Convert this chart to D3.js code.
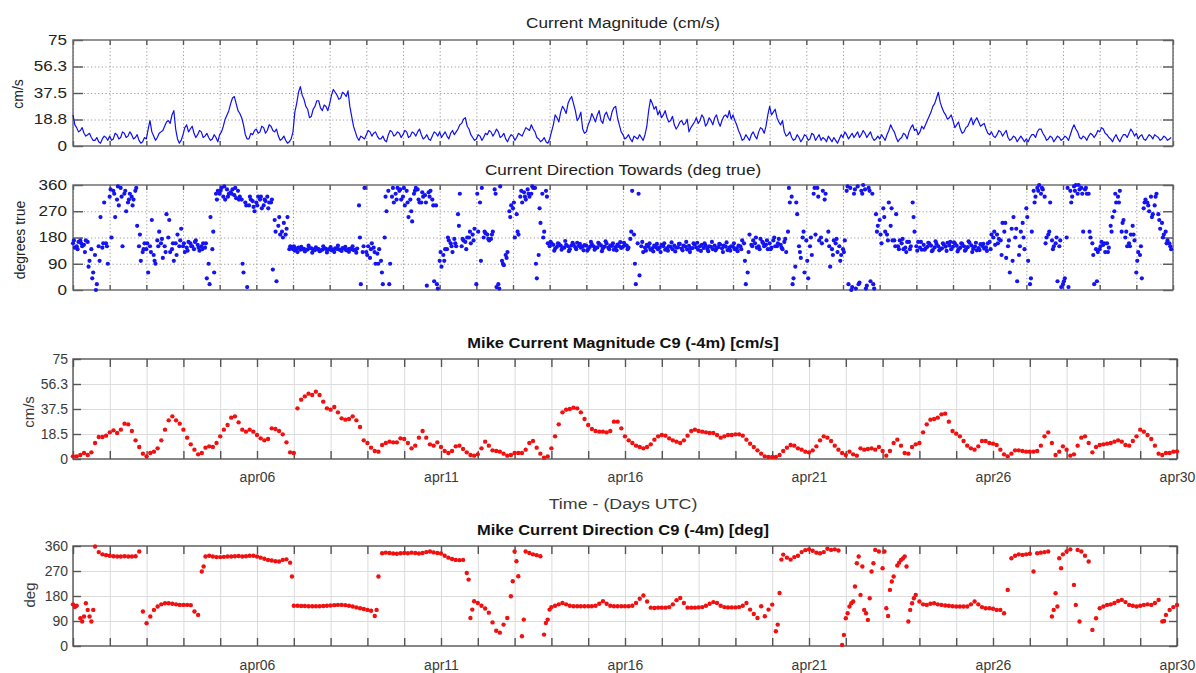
<!DOCTYPE html>
<html><head><meta charset="utf-8">
<script src="https://cdn.jsdelivr.net/npm/d3@7"></script>
<style>body{margin:0;background:#fff;}svg{display:block;}</style>
</head><body>
<svg id="chart" width="1196" height="673"></svg>
<script>
// ---------------- DATA ----------------
const stepDays = 0.1;               // sampling step of the arrays below (days since apr01 00:00)
const xLabelDays = [5, 10, 15, 20, 25, 30];
const xLabels = ["apr06", "apr11", "apr16", "apr21", "apr26", "apr30"];
const magTicks = [0, 18.75, 37.5, 56.25, 75];
const magLabelsObs = ["0", "18.8", "37.5", "56.3", "75"];
const magLabelsModel = ["0", "18.5", "37.5", "56.3", "75"];
const dirTicks = [0, 90, 180, 270, 360];
const dirLabels = ["0", "90", "180", "270", "360"];

// Observed current magnitude (cm/s), read at each step ...
const magObs = [
22,13,11,9,8,6,4,3,5,6, 7,5,8,6,9,7,8,6,4,3, 5,18,7,6,10,14,18,22,12,2, 8,15,12,9,8,10,7,6,5,6,
8,14,22,30,35,25,20,8,5,8, 12,10,13,11,14,10,7,5,4,3, 10,30,42,33,26,21,28,32,25,28, 30,40,36,34,37,39,21,10,4,6,
8,10,9,7,5,4,8,10,8,9, 8,10,7,9,10,8,6,5,7,9, 10,8,7,9,8,12,16,20,12,6, 5,7,6,8,10,9,10,7,5,6,
7,6,8,10,12,15,10,5,4,3, 5,15,20,24,26,30,35,25,20,12, 10,18,20,22,18,22,20,24,28,15, 8,6,5,7,5,6,8,25,30,28,
25,22,20,18,15,14,18,16,10,15, 20,18,20,16,18,20,17,18,22,25, 22,15,8,5,6,8,7,10,12,14, 28,24,20,15,10,8,6,5,6,5,
7,5,8,6,4,5,7,3,4,5, 6,8,7,6,10,8,9,8,6,5, 5,6,8,15,10,3,6,8,10,15, 12,10,12,18,24,30,38,27,22,20,
18,15,12,10,14,20,18,17,15,12, 8,7,8,10,9,6,5,6,5,5, 5,6,8,10,12,7,5,6,5,6, 5,6,8,15,10,5,6,7,8,8,
10,12,8,5,6,5,6,8,9,10, 9,7,5,6,7,8,6,5,6,5
];
// ... and half a step later (the jagged high-frequency readings)
const magObsMid = [
15,10,13,7,9,4,6,2,7,4, 4,9,5,10,6,10,5,8,2,6, 12,10,4,9,11,17,16,25,5,4, 13,10,14,6,11,6,9,4,8,3,
10,19,25,34,30,23,15,5,9,11, 9,14,9,15,11,12,4,7,2,5, 24,38,36,28,20,26,32,27,29,25, 36,38,33,38,35,28,14,6,7,5,
11,7,10,5,7,3,11,7,10,6, 11,6,10,7,12,5,8,4,10,7, 6,10,5,11,10,15,19,14,8,4, 8,4,9,11,7,12,6,9,3,8,
4,9,7,13,11,12,6,3,6,2, 10,22,17,28,23,33,30,18,24,9, 15,23,17,25,16,24,18,27,20,10, 5,8,3,6,8,4,14,33,26,22,
20,25,17,21,12,17,15,19,13,17, 16,22,14,20,15,22,14,21,20,19, 18,11,4,8,4,10,5,13,9,22, 22,26,17,18,7,10,4,8,3,8,
4,9,4,8,6,3,5,6,2,8, 10,5,9,8,6,11,6,10,4,7, 8,4,11,12,6,5,9,5,13,11, 8,14,15,21,28,34,31,24,19,22,
13,17,9,13,17,15,20,14,16,9, 10,6,11,7,11,4,7,3,7,3, 3,8,6,12,9,4,7,3,7,4, 7,4,12,12,6,7,4,9,6,11,
13,9,6,3,8,3,8,6,12,7, 5,8,4,8,5,7,4,7,4,6
];

// Observed current direction towards (deg true): three readings per step
const dirObs = [
160,150,170,155,165,140,120,150,145,160, 320,340,310,350,330,300,320,340,150,130, 140,150,120,170,160,150,180,140,160,150,
150,145,160,140,155,150,145,90,140,330, 330,320,345,335,325,340,310,300,290,305, 300,310,290,320,300,240,220,200,190,140,
140,142,138,141,139,143,137,140,138,141, 140,138,141,137,142,139,140,138,290,130, 130,110,145,125,100,180,340,320,330,340,
320,340,310,330,345,300,325,335,310,290, 100,120,140,160,175,260,150,165,180,190, 20,300,180,190,175,345,20,100,120,270,
280,260,320,335,345,330,350,120,330,340, 150,155,148,152,145,150,153,147,151,149, 152,148,150,146,153,149,145,151,147,150,
148,152,175,190,160,150,145,148,143,147, 145,150,143,148,152,146,142,149,151,144, 146,150,144,141,148,152,147,143,149,145,
148,143,150,160,60,155,160,150,165,155, 160,170,150,155,165,200,320,80,150,180, 170,150,330,350,180,310,200,140,160,150,
140,340,350,330,355,340,345,350,330,260, 240,280,190,220,170,150,160,145,165,300, 150,145,155,148,152,146,150,143,149,153,
148,152,145,150,147,153,149,144,151,146, 165,180,190,170,200,150,210,180,120,230, 280,20,340,350,330,320,190,170,160,150,
20,180,340,355,330,350,345,330,160,140, 140,155,160,220,270,320,200,180,160,220, 60,120,280,300,320,290,260,230,200,160
];
const dirObsAlt = [
145,165,150,170,100,60,20,250,300,90, 180,250,290,150,270,330,310,220,100,160, 60,240,90,200,110,260,130,100,190,210,
130,165,150,170,135,160,40,250,60,340, 350,310,330,345,315,320,60,10,310,270, 320,280,305,300,70,30,190,230,250,145,
135,145,140,136,144,139,142,135,143,138, 136,143,139,144,136,141,137,142,20,350, 150,160,90,140,20,270,90,300,350,310,
290,250,235,350,300,320,15,340,30,5, 80,140,170,130,150,330,170,180,160,210, 200,350,195,170,200,10,355,85,130,290,
180,190,300,310,320,350,40,230,200,160, 160,142,158,145,155,140,156,162,145,154, 140,157,143,158,142,160,152,138,156,144,
155,145,340,20,50,130,155,138,152,140, 155,138,150,140,145,158,152,139,142,156, 138,155,152,150,140,143,156,152,137,150,
140,152,170,20,190,170,145,175,150,140, 145,150,175,140,130,300,40,260,110,60, 40,120,190,170,340,170,80,170,130,120,
170,20,10,5,25,360,15,30,5,220, 160,200,300,170,260,170,140,165,150,200, 165,138,142,160,137,158,140,156,162,140,
160,140,158,138,162,141,136,157,142,160, 190,155,175,230,110,60,250,30,200,140, 100,200,320,360,345,180,300,150,30,10,
40,10,320,360,345,200,330,180,20,130, 165,130,145,250,300,340,240,150,190,170, 130,40,310,270,260,330,210,190,170,140
];
const dirObsAlt2 = [
170,140,160,130,80,40,0,100,160,150, 345,330,355,320,340,310,290,350,190,140, 160,130,100,150,175,130,240,160,120,170,
160,135,150,165,145,140,160,20,200,310, 340,355,320,330,350,310,90,290,320,285, 290,320,310,280,310,200,250,180,210,150,
150,130,148,132,152,128,146,133,150,129, 147,130,152,134,148,131,150,128,180,150, 120,140,130,90,60,320,20,350,310,345,
350,300,270,340,310,335,300,320,290,20, 130,100,180,150,160,220,175,140,200,170, 330,100,200,175,190,330,5,90,110,250,
300,200,340,320,330,355,90,280,180,320, 165,135,160,138,168,133,162,140,158,136, 135,165,138,162,133,167,140,160,136,164,
162,140,200,90,330,165,135,160,132,158, 130,160,135,163,132,158,136,165,130,160, 162,134,160,133,165,136,158,130,163,135,
160,133,140,100,130,150,180,140,160,170, 140,180,160,145,175,350,20,300,130,200, 100,180,350,320,160,330,150,120,175,100,
130,355,0,345,20,330,5,340,20,200, 190,250,170,280,150,140,175,130,140,250, 135,165,138,162,133,167,136,160,134,165,
163,132,160,135,167,130,162,137,158,134, 140,200,160,120,230,170,100,210,150,180, 250,40,300,340,350,160,200,140,180,170,
30,350,300,340,360,330,350,200,120,30, 150,160,130,200,330,300,230,200,150,190, 100,150,300,290,250,320,240,180,160,150
];

// Model (Mike C9, -4m) current magnitude (cm/s)
const magModel = [
2,2,3,4.5,3,5,12,16.5,16.5,17.5, 20,21.5,19.5,22,26.5,26,21,14,9,4, 2,4.5,5.5,8,14,22,29,32,29,26.5,
22,16,11,7,3.5,4.5,8.5,9.5,9,12, 17,22,25.5,31,32,27.5,22,20.5,22,20.5, 18,15.5,14,15,23,22.5,21,18.5,12.5,5,
4.5,38,44.5,47,49,48,50.5,48,43,38, 37,39,35,30.5,29.5,30,32,29,24,14, 12,8.5,6,5.5,10.5,12,13,12.5,12.5,15.5,
15,12,8,10,16,21,16,11,10,12.5, 9,6,4.5,6,9.5,10,7.5,5,3,2.5, 3.5,8,13,10,6.5,6,5.5,4,2.5,3,
4.5,4.5,4.5,7,12,13.5,8.5,4,1,2, 8,17,26,35,37,37.5,38.5,38,35,30, 25.5,22.5,21,20.5,20.5,20,21,28,28,23,
17,14,12,10,9,8,9,11,14.5,17, 18,17.5,15.5,14,13,12,14,17.5,21,22, 21,20.5,20,19.5,19.5,18,16,17,18,18,
18.5,18.5,17.5,14.5,11.5,9,6.5,4,2,1.5, 1.5,1.5,3,6,8.5,10.5,10,8,7,5.5, 5,6.5,9.5,14,17,16,13.5,10,7,4.5,
3,5.5,3.5,2.5,8,7,7.5,8,7,9, 6,2.5,6,12,14.5,10,4.5,4,9,11, 12,20,26,29.5,30,31,33.5,34,28,21,
19,17,13.5,10,8,7,9.5,13.5,13.5,12, 11.5,10.5,7,3.5,2,4,6.5,6.5,6,5.5, 5.5,5.5,6,10,17,20,12,3,5.5,9.5,
7,2.5,3.5,10,16,17,12,5,9,10.5, 11,11.5,12,13,14,13,10.5,10,13.5,17, 22,20.5,18,15,10,4,3,4.5,4.5,5.5, 5.7
];

// Model current direction (deg)
const dirModel = [
150,145,100,106,130,88,358,338,330,327, 325,323,322,322,323,322,322,323,340,124, 82,106,130,142,150,154,154,152,150,148,
148,148,147,124,112,268,322,325,322,320, 320,321,322,322,323,324,322,323,325,325, 322,318,314,310,308,305,304,310,312,300,
145,145,144,144,143,143,143,143,144,145, 146,147,148,148,147,145,142,139,136,133, 130,127,108,250,334,336,335,333,332,334,
335,334,336,335,333,335,338,340,337,335, 333,325,318,313,310,309,310,263,101,161, 155,145,135,120,85,55,48,77,101,179,
340,251,35,340,335,330,327,323,41,95, 140,145,150,155,150,145,143,143,143,143, 143,143,145,152,161,152,145,143,143,143,
143,143,145,155,170,182,160,138,137,138, 138,138,140,150,165,173,155,138,138,138, 139,140,145,152,158,155,145,140,139,139,
139,140,145,155,131,115,101,143,107,131, 149,53,191,329,318,311,320,325,338,345, 348,343,336,334,338,350,346,348,344,4,
100,142,160,298,184,130,94,268,346,340, 280,136,202,250,290,310,322,88,154,184, 160,150,148,152,154,150,148,146,145,143,
142,142,142,142,150,160,150,140,136,136, 134,130,130,118,202,316,325,330,328,330, 332,268,334,336,338,340,106,190,316,330,
340,348,220,346,340,325,304,58,100,136, 142,148,150,155,162,166,158,148,145,142, 145,148,150,148,155,166,88,112,130,140, 148
];
// extra model direction dots between steps: [day, deg]
const dirModelExtra = [
[0.05,140],[0.25,88],[0.35,154],[0.45,106],[0.55,130],[3.55,286],[5.95,250],[8.25,130],[10.75,239],[10.85,131],
[11.95,233],[12.05,305],[12.25,95],[12.85,83],[12.95,131],[19.15,77],[19.25,311],[20.95,40],[21.05,118],[21.15,154],
[21.25,214],[21.35,322],[21.45,286],[21.55,118],[21.65,172],[21.75,298],[22.05,340],[22.15,108],[22.25,232],[22.45,300],
[22.55,315],[22.65,286],[22.75,130],[22.85,172],[26.65,130],[26.75,142],[26.85,280],[27.25,148],[27.35,88],[29.65,90]
];

// ---------------- DRAWING ----------------
const FONT = "'Liberation Sans', Arial, Helvetica, sans-serif";
const svg = d3.select("#chart");
const dayGrid = d3.range(0, 31);

const xTop = d3.scaleLinear().domain([0, 30]).range([73, 1173]);
const xBot = d3.scaleLinear().domain([0, 30]).range([73, 1177]);
const y1 = d3.scaleLinear().domain([0, 75]).range([146, 40]);
const y2 = d3.scaleLinear().domain([0, 360]).range([290, 185]);
const y3 = d3.scaleLinear().domain([0, 75]).range([459, 359]);
const y4 = d3.scaleLinear().domain([0, 360]).range([646, 546]);

function stretchTicks(sel, k) {
  sel.selectAll(".tick text").each(function () {
    const t = d3.select(this);
    const x = +t.attr("x") || 0;
    t.attr("transform", `translate(${x},0) scale(${k},1) translate(${-x},0)`);
  });
}

function frame(o) {
  const g = svg.append("g");
  const [x0, x1] = o.x.range();
  const yb = o.y.range()[0], yt = o.y.range()[1];
  const w = x1 - x0, h = yb - yt;
  g.append("g").attr("transform", `translate(0,${yb})`)
    .call(d3.axisBottom(o.x).tickValues(dayGrid).tickSize(-h).tickFormat(""))
    .call(s => { s.select(".domain").remove(); s.selectAll("line").attr("stroke", o.grid).attr("stroke-width", o.gridW).attr("stroke-dasharray", o.dash); });
  g.append("g").attr("transform", `translate(${x0},0)`)
    .call(d3.axisLeft(o.y).tickValues(o.yTicks.slice(1, -1)).tickSize(-w).tickFormat(""))
    .call(s => { s.select(".domain").remove(); s.selectAll("line").attr("stroke", o.grid).attr("stroke-width", o.gridW).attr("stroke-dasharray", o.dash); });
  g.append("g").attr("transform", `translate(0,${yb})`)
    .call(d3.axisBottom(o.x).tickValues(dayGrid).tickSize(-o.xTickLen).tickFormat(""))
    .call(s => { s.select(".domain").remove(); s.selectAll("line").attr("stroke", o.tick).attr("stroke-width", 1.4); });
  g.append("g").attr("transform", `translate(0,${yt})`)
    .call(d3.axisTop(o.x).tickValues(dayGrid).tickSize(-o.xTickLen).tickFormat(""))
    .call(s => { s.select(".domain").remove(); s.selectAll("line").attr("stroke", o.tick).attr("stroke-width", 1.4); });
  g.append("g").attr("transform", `translate(${x0},0)`)
    .call(d3.axisLeft(o.y).tickValues(o.yTicks).tickSize(-o.yTickLen).tickFormat(""))
    .call(s => { s.select(".domain").remove(); s.selectAll("line").attr("stroke", o.tick).attr("stroke-width", 1.4); });
  g.append("g").attr("transform", `translate(${x1},0)`)
    .call(d3.axisRight(o.y).tickValues(o.yTicks).tickSize(-o.yTickLen).tickFormat(""))
    .call(s => { s.select(".domain").remove(); s.selectAll("line").attr("stroke", o.tick).attr("stroke-width", 1.4); });
  g.append("g").attr("transform", `translate(${x0},0)`)
    .call(d3.axisLeft(o.y).tickValues(o.yTicks).tickFormat((d, i) => o.yLabels[i]).tickSize(0).tickPadding(o.pad))
    .attr("font-family", FONT).attr("font-size", o.fs)
    .call(s => { s.select(".domain").remove(); s.selectAll("text").attr("fill", o.textColor); stretchTicks(s, o.k); });
  if (o.xLabels) {
    g.append("g").attr("transform", `translate(0,${yb})`)
      .call(d3.axisBottom(o.x).tickValues(xLabelDays).tickFormat((d, i) => xLabels[i]).tickSize(0).tickPadding(o.xPad))
      .attr("font-family", FONT).attr("font-size", o.fs)
      .call(s => { s.select(".domain").remove(); s.selectAll("text").attr("fill", o.textColor); });
  }
  g.append("rect").attr("x", x0).attr("y", yt).attr("width", w).attr("height", h)
    .attr("fill", "none").attr("stroke", o.box).attr("stroke-width", o.boxW);
  return g;
}

function text(str, x, y, opt) {
  svg.append("text")
    .attr("transform", `translate(${x},${y}) rotate(${opt.rot || 0}) scale(${opt.k || 1},1)`)
    .attr("text-anchor", "middle")
    .attr("font-family", FONT).attr("font-size", opt.size)
    .attr("font-weight", opt.bold ? "bold" : "normal")
    .attr("fill", opt.fill || "#222")
    .text(str);
}

const topStyle = { grid: "#9a9a9a", gridW: 1, dash: "1.2,2.4", tick: "#555", xTickLen: 5, yTickLen: 10,
  box: "#666", boxW: 1.4, fs: 14, k: 1.22, pad: 6, textColor: "#222" };
const botStyle = { grid: "#dcdcdc", gridW: 1, dash: null, tick: "#555", xTickLen: 8, yTickLen: 8,
  box: "#555", boxW: 1.4, fs: 14, k: 1, pad: 5, textColor: "#3a3a3a", xPad: 13 };

// Panel 1 : observed magnitude (both reading sets in time order)
frame(Object.assign({}, topStyle, { x: xTop, y: y1, yTicks: magTicks, yLabels: magLabelsObs }));
const magObsSeries = magObs.flatMap((v, i) => [{ t: i * stepDays, v: v }, { t: i * stepDays + stepDays / 2, v: magObsMid[i] }]);
svg.append("path")
  .datum(magObsSeries)
  .attr("fill", "none").attr("stroke", "#1010f0").attr("stroke-width", 1.2).attr("stroke-linejoin", "round")
  .attr("d", d3.line().x(d => xTop(d.t)).y(d => y1(d.v)));

// Panel 2 : observed direction
frame(Object.assign({}, topStyle, { x: xTop, y: y2, yTicks: dirTicks, yLabels: dirLabels }));
const p2 = svg.append("g").attr("fill", "#1414f2");
[[dirObs, 0], [dirObsAlt, 0.5], [dirObsAlt2, 0.25]].forEach(([arr, off]) => {
  p2.append("g").selectAll("circle").data(arr).join("circle")
    .attr("cx", (d, i) => xTop((i + off) * stepDays)).attr("cy", d => y2(d)).attr("r", 2.1);
});

// Panel 3 : model magnitude
frame(Object.assign({}, botStyle, { x: xBot, y: y3, yTicks: magTicks, yLabels: magLabelsModel, xLabels: true }));
svg.append("g").attr("fill", "#f01010")
  .selectAll("circle").data(magModel).join("circle")
  .attr("cx", (d, i) => xBot(i * stepDays)).attr("cy", d => y3(d)).attr("r", 2.2);

// Panel 4 : model direction
frame(Object.assign({}, botStyle, { x: xBot, y: y4, yTicks: dirTicks, yLabels: dirLabels, xLabels: true, xPad: 14 }));
const p4 = svg.append("g").attr("fill", "#f01010");
p4.append("g").selectAll("circle").data(dirModel).join("circle")
  .attr("cx", (d, i) => xBot(i * stepDays)).attr("cy", d => y4(d)).attr("r", 2.2);
p4.append("g").selectAll("circle").data(dirModelExtra).join("circle")
  .attr("cx", d => xBot(d[0])).attr("cy", d => y4(d[1])).attr("r", 2.2);

// Titles & axis labels
text("Current Magnitude (cm/s)", 623, 28, { size: 14.5, k: 1.18, fill: "#222" });
text("Current Direction Towards (deg true)", 623, 175, { size: 14.5, k: 1.18, fill: "#222" });
text("Mike Current Magnitude C9 (-4m) [cm/s]", 623, 348, { size: 15, bold: true, k: 1.1, fill: "#111" });
text("Time - (Days UTC)", 623, 509, { size: 15.5, k: 1.15, fill: "#3a3a3a" });
text("Mike Current Direction C9 (-4m) [deg]", 623, 535, { size: 15, bold: true, k: 1.1, fill: "#111" });
text("cm/s", 23, 94, { size: 14, rot: -90, fill: "#222" });
text("degrees true", 25, 240, { size: 14, rot: -90, fill: "#222" });
text("cm/s", 34, 412, { size: 15, rot: -90, fill: "#3a3a3a" });
text("deg", 35, 595, { size: 15, rot: -90, fill: "#3a3a3a" });
</script>
</body></html>
